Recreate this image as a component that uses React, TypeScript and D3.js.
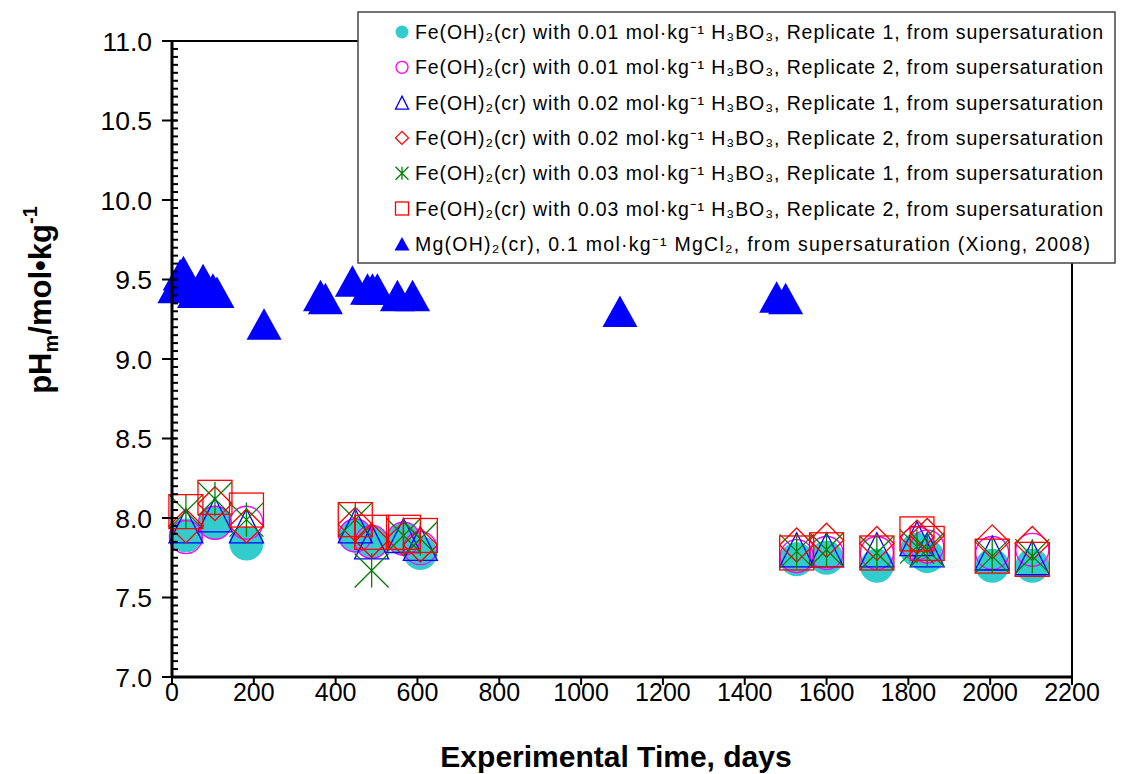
import React from 'react'
import * as d3 from 'd3'

// Fe(OH)2 experiments: sampling days shared by all six series
const feDays = [34, 105, 182, 448, 488, 566, 607, 1527, 1600, 1723, 1821, 1846, 2005, 2103]
const fe001r1 = [7.89, 7.97, 7.84, 7.89, 7.85, 7.87, 7.78, 7.74, 7.75, 7.70, 7.80, 7.76, 7.70, 7.70]
const fe001r2 = [7.88, 7.97, 7.97, 7.89, 7.85, 7.87, 7.81, 7.76, 7.78, 7.78, 7.84, 7.82, 7.78, 7.80]
const fe002r1 = [7.95, 8.02, 7.95, 7.95, 7.85, 7.89, 7.84, 7.80, 7.80, 7.80, 7.87, 7.80, 7.78, 7.75]
const fe002r2 = [7.95, 8.09, 7.95, 7.96, 7.86, 7.87, 7.83, 7.83, 7.86, 7.84, 7.88, 7.89, 7.85, 7.84]
const fe003r1 = [8.04, 8.12, 7.99, 7.99, 7.67, 7.89, 7.87, 7.79, 7.80, 7.78, 7.82, 7.80, 7.76, 7.76]
const fe003r2 = [8.04, 8.13, 8.05, 7.99, 7.91, 7.91, 7.89, 7.78, 7.80, 7.78, 7.90, 7.84, 7.76, 7.74]

// Mg(OH)2 (Xiong, 2008)
const mgDays = [7, 20, 28, 42, 55, 76, 100, 110, 225, 363, 375, 441, 478, 490, 502, 551, 588, 1095, 1478, 1500]
const mgPH = [9.45, 9.53, 9.55, 9.47, 9.42, 9.50, 9.44, 9.42, 9.22, 9.40, 9.38, 9.49, 9.44, 9.44, 9.44, 9.40, 9.40, 9.30, 9.39, 9.38]

const xTicks = d3.range(0, 2201, 200)
const yTicks = d3.range(7, 11.001, 0.5)
const yMinor = d3.range(7, 11.001, 0.05)

const labels = [
  'Fe(OH)₂(cr) with 0.01 mol·kg⁻¹ H₃BO₃, Replicate 1, from supersaturation',
  'Fe(OH)₂(cr) with 0.01 mol·kg⁻¹ H₃BO₃, Replicate 2, from supersaturation',
  'Fe(OH)₂(cr) with 0.02 mol·kg⁻¹ H₃BO₃, Replicate 1, from supersaturation',
  'Fe(OH)₂(cr) with 0.02 mol·kg⁻¹ H₃BO₃, Replicate 2, from supersaturation',
  'Fe(OH)₂(cr) with 0.03 mol·kg⁻¹ H₃BO₃, Replicate 1, from supersaturation',
  'Fe(OH)₂(cr) with 0.03 mol·kg⁻¹ H₃BO₃, Replicate 2, from supersaturation',
  'Mg(OH)₂(cr), 0.1 mol·kg⁻¹ MgCl₂, from supersaturation (Xiong, 2008)',
]

const W = 1130, H = 774
const left = 172, right = 1072, top = 41, bottom = 677
const x = d3.scaleLinear().domain([0, 2200]).range([left, right])
const y = d3.scaleLinear().domain([7, 11]).range([bottom, top])

const font = '"Liberation Sans", Arial, sans-serif'

// marker drawing, s = full marker size
function marker(kind: string, cx: number, cy: number, s: number, key: string) {
  const h = s / 2
  switch (kind) {
    case 'dot':
      return <circle key={key} cx={cx} cy={cy} r={h} fill="#33CCCC" stroke="none" />
    case 'ring':
      return <circle key={key} cx={cx} cy={cy} r={h - 0.5} fill="none" stroke="#FF00FF" strokeWidth={1.3} />
    case 'tri':
      return <path key={key} d={`M${cx},${cy - h}L${cx + h},${cy + h}L${cx - h},${cy + h}Z`} fill="none" stroke="#0000FF" strokeWidth={1.3} />
    case 'diamond':
      return <path key={key} d={`M${cx},${cy - h}L${cx + h},${cy}L${cx},${cy + h}L${cx - h},${cy}Z`} fill="none" stroke="#FF0000" strokeWidth={1.3} />
    case 'star':
      return <path key={key} d={`M${cx - h},${cy - h}L${cx + h},${cy + h}M${cx + h},${cy - h}L${cx - h},${cy + h}M${cx},${cy - h}L${cx},${cy + h}`} fill="none" stroke="#008000" strokeWidth={1.3} />
    case 'square':
      return <rect key={key} x={cx - h} y={cy - h} width={s} height={s} fill="none" stroke="#FF0000" strokeWidth={1.3} />
    case 'mg':
      return <path key={key} d={`M${cx},${cy - h * 0.9}L${cx + h},${cy + h * 0.9}L${cx - h},${cy + h * 0.9}Z`} fill="#0000FF" stroke="none" />
  }
  return null
}

const feSeries = [
  { kind: 'dot', vals: fe001r1 },
  { kind: 'ring', vals: fe001r2 },
  { kind: 'tri', vals: fe002r1 },
  { kind: 'diamond', vals: fe002r2 },
  { kind: 'star', vals: fe003r1 },
  { kind: 'square', vals: fe003r2 },
]
const legendKinds = ['dot', 'ring', 'tri', 'diamond', 'star', 'square', 'mg']

export default function App() {
  return (
    <svg width={W} height={H} style={{ position: 'absolute', left: 0, top: 0, background: '#fff' }} fontFamily={font}>
      {/* frame */}
      <rect x={left} y={top} width={right - left} height={bottom - top} fill="none" stroke="#000" strokeWidth={2} />

      {/* data */}
      {mgDays.map((d, i) => marker('mg', x(d), y(mgPH[i]), 35, 'mg' + i))}
      {feSeries.map((s, si) => s.vals.map((v, i) => marker(s.kind, x(feDays[i]), y(v), 34, s.kind + i)))}

      {/* y axis */}
      <line x1={left} x2={left} y1={top} y2={bottom} stroke="#000" strokeWidth={3} />
      {yMinor.map((t, i) => (
        <line key={'ym' + i} x1={left} x2={left + 6} y1={y(t)} y2={y(t)} stroke="#000" strokeWidth={2} />
      ))}
      {yTicks.map((t, i) => (
        <g key={'y' + i}>
          <line x1={left - 10} x2={left + 5} y1={y(t)} y2={y(t)} stroke="#000" strokeWidth={2} />
          <text x={left - 20} y={y(t)} dy="0.36em" textAnchor="end" fontSize={26.5}>{t.toFixed(1)}</text>
        </g>
      ))}

      {/* x axis */}
      <line x1={left} x2={right} y1={bottom} y2={bottom} stroke="#000" strokeWidth={3} />
      {xTicks.map((t, i) => (
        <g key={'x' + i}>
          <line x1={x(t)} x2={x(t)} y1={bottom} y2={bottom + 8} stroke="#000" strokeWidth={2} />
          <text x={x(t)} y={bottom + 24} textAnchor="middle" fontSize={25}>{t}</text>
        </g>
      ))}

      {/* titles */}
      <text x={616} y={767} textAnchor="middle" fontSize={30} fontWeight="bold">Experimental Time, days</text>
      <text transform="translate(51,300) rotate(-90)" textAnchor="middle" fontSize={31} fontWeight="bold">
        pH<tspan fontSize={20} dy={7}>m</tspan><tspan dy={-7}>/mol•kg</tspan><tspan fontSize={20} dy={-14}>-1</tspan>
      </text>

      {/* legend */}
      <rect x={358} y={12} width={757} height={251} fill="#fff" stroke="#444" strokeWidth={1.5} />
      {labels.map((l, i) => {
        const ly = 32 + i * 35.3
        return (
          <g key={'lg' + i}>
            {marker(legendKinds[i], 402, ly, i === 6 ? 15 : 13, 'lm' + i)}
            <text x={415} y={ly} dy="0.36em" fontSize={19.5} textLength={i === 6 ? 675 : 688} lengthAdjust="spacing">{l}</text>
          </g>
        )
      })}
    </svg>
  )
}
